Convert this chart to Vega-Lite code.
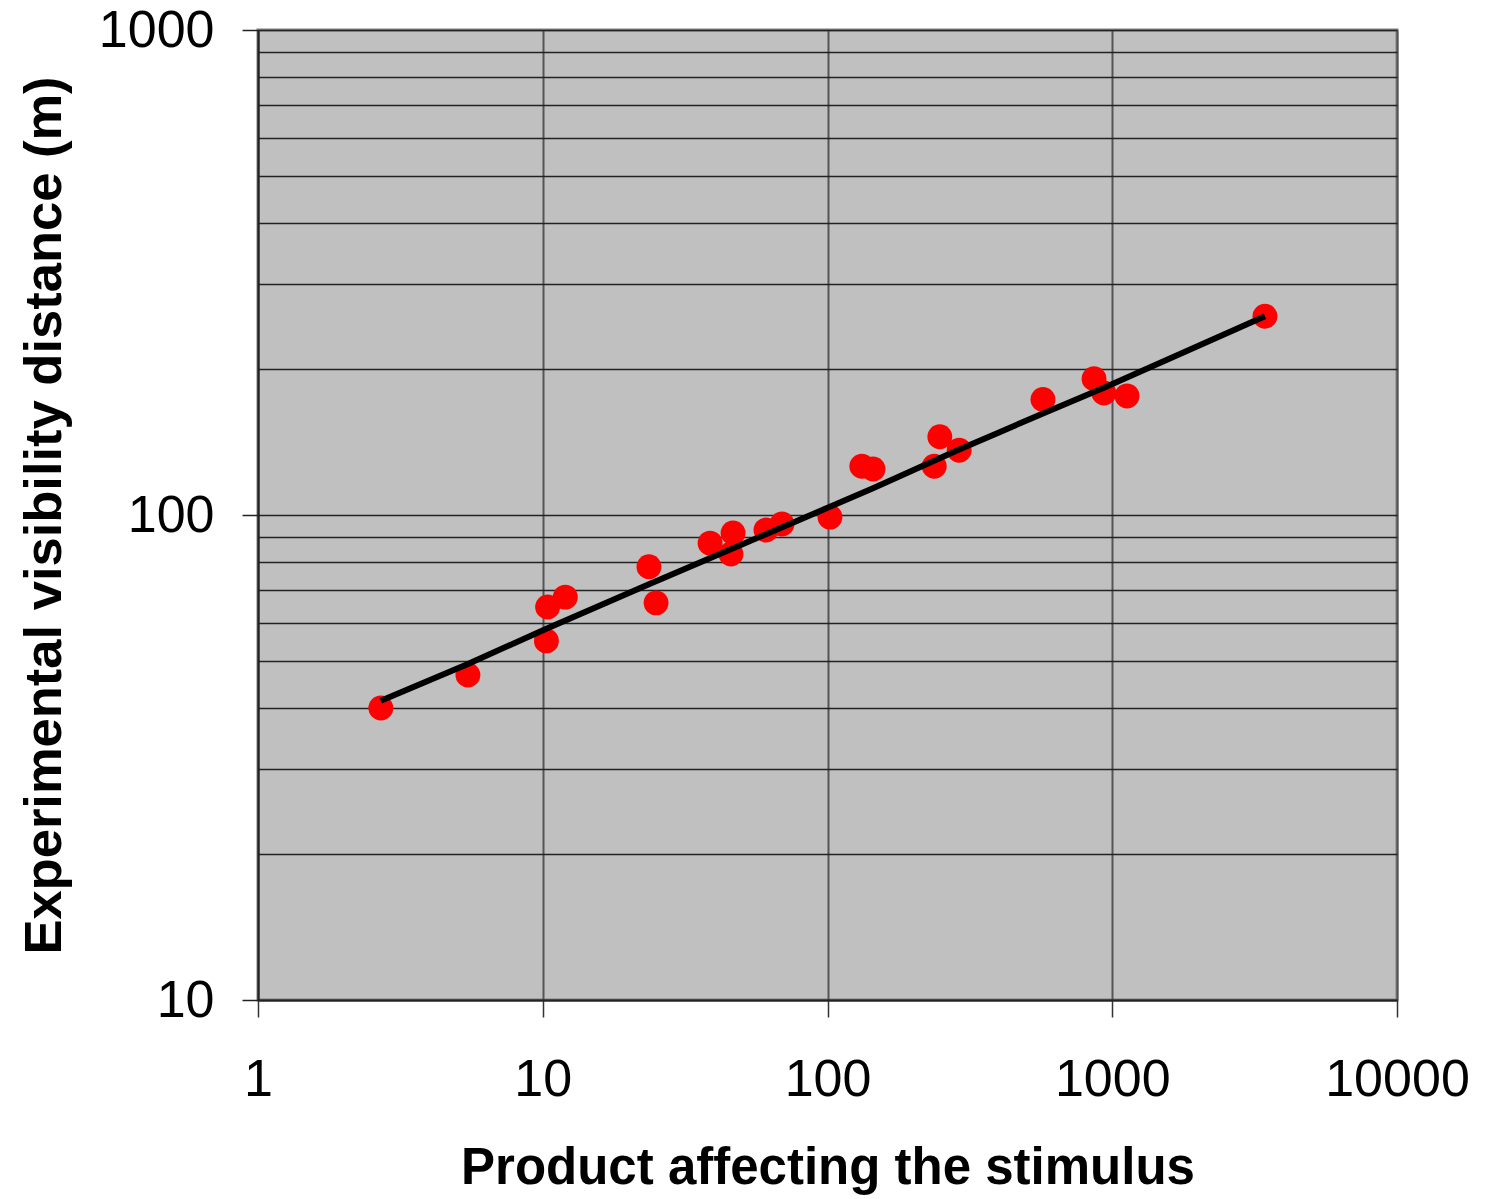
{
  "$schema": "https://vega.github.io/schema/vega-lite/v6.json",
  "width": 1139,
  "height": 970,
  "autosize": {"type": "none"},
  "padding": {"left": 258, "top": 30, "right": 98, "bottom": 199},
  "background": "white",
  "config": {
    "view": {"fill": "#C0C0C0", "stroke": "#808080", "strokeWidth": 3},
    "font": "Liberation Sans"
  },
  "datasets": {
    "obs": [
      {"x": 2.70, "y": 40.0},
      {"x": 5.46, "y": 46.8},
      {"x": 10.3, "y": 55.0},
      {"x": 10.4, "y": 64.6},
      {"x": 12.0, "y": 67.7},
      {"x": 23.6, "y": 78.2},
      {"x": 25.0, "y": 65.9},
      {"x": 38.7, "y": 87.5},
      {"x": 45.8, "y": 83.1},
      {"x": 46.6, "y": 91.8},
      {"x": 60.8, "y": 93.1},
      {"x": 69.2, "y": 95.8},
      {"x": 102, "y": 99.0},
      {"x": 132, "y": 126},
      {"x": 144.5, "y": 124.4},
      {"x": 237, "y": 126},
      {"x": 248, "y": 145},
      {"x": 290, "y": 136},
      {"x": 571, "y": 173},
      {"x": 863, "y": 191},
      {"x": 935, "y": 178.5},
      {"x": 1127, "y": 176},
      {"x": 3438, "y": 257}
    ],
    "fit": [
      {"x": 2.70, "y": 41.4},
      {"x": 5.46, "y": 49.3},
      {"x": 10.3, "y": 58.3},
      {"x": 23.6, "y": 72.0},
      {"x": 45.8, "y": 85.0},
      {"x": 102, "y": 104.0},
      {"x": 144.5, "y": 113.5},
      {"x": 290, "y": 136.5},
      {"x": 400, "y": 148},
      {"x": 571, "y": 162},
      {"x": 935, "y": 183},
      {"x": 3438, "y": 257}
    ]
  },
  "layer": [
    {
      "data": {"name": "obs"},
      "mark": {"type": "circle", "color": "#FF0000", "opacity": 1, "size": 620},
      "encoding": {
        "x": {
          "field": "x", "type": "quantitative",
          "scale": {"type": "log", "domain": [1, 10000], "nice": false},
          "axis": {
            "title": "Product affecting the stimulus",
            "values": [1, 10, 100, 1000, 10000],
            "format": "d",
            "labelFlush": false,
            "labelOverlap": false,
            "labelFontSize": 52,
            "labelColor": "black",
            "labelPadding": 37,
            "tickSize": 17,
            "tickColor": "#333333",
            "tickWidth": 1.5,
            "domainColor": "#222222",
            "domainWidth": 2,
            "grid": true,
            "gridColor": "#555555",
            "gridWidth": 2,
            "titleFontSize": 51,
            "titleFontWeight": "bold",
            "titleColor": "black",
            "titlePadding": 38
          }
        },
        "y": {
          "field": "y", "type": "quantitative",
          "scale": {"type": "log", "domain": [10, 1000], "nice": false},
          "axis": {
            "title": "Experimental visibility distance (m)",
            "values": [10, 20, 30, 40, 50, 60, 70, 80, 90, 100, 200, 300, 400, 500, 600, 700, 800, 900, 1000],
            "format": "d",
            "labelExpr": "(datum.value == 10 || datum.value == 100 || datum.value == 1000) ? datum.label : ''",
            "labelOverlap": false,
            "labelFontSize": 52,
            "labelColor": "black",
            "labelPadding": 28,
            "tickSize": 16,
            "tickColor": "#222222",
            "tickWidth": 1.5,
            "tickOpacity": {"condition": {"test": "datum.value == 10 || datum.value == 100 || datum.value == 1000", "value": 1}, "value": 0},
            "domainColor": "#222222",
            "domainWidth": 2,
            "grid": true,
            "gridColor": "#222222",
            "gridWidth": 1.3,
            "titleFontSize": 52.5,
            "titleFontWeight": "bold",
            "titleColor": "black",
            "titlePadding": 27
          }
        }
      }
    },
    {
      "data": {"name": "fit"},
      "mark": {"type": "line", "color": "black", "strokeWidth": 6},
      "encoding": {
        "x": {"field": "x", "type": "quantitative"},
        "y": {"field": "y", "type": "quantitative"}
      }
    }
  ]
}
